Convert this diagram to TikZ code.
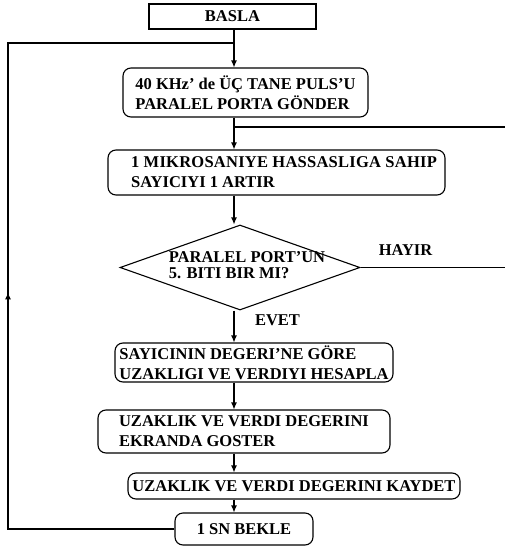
\documentclass[tikz,border=0pt]{standalone}
\usepackage{fontspec}
\setmainfont{Liberation Serif}
\usetikzlibrary{shapes.geometric,arrows.meta,decorations.markings}
\begin{document}
\begin{tikzpicture}[x=1pt,y=-1pt,
  every node/.style={font=\fontsize{16.5}{20}\selectfont\bfseries, inner sep=0pt},
  flowbox/.style={draw, line width=1.1pt, rounded corners=8pt, align=left},
  startbox/.style={draw, line width=1.1pt},
  decbox/.style={draw, line width=1.1pt, diamond, aspect=2.78},
  conn/.style={line width=1.1pt},
  arr/.style={conn, -{Latex[length=7pt,width=6pt]}},
  lbl/.style={font=\fontsize{16.5}{20}\selectfont\bfseries}
]
\useasboundingbox (0,0) rectangle (505,546);
\coordinate (ax) at (234,0);

\node[startbox, minimum width=167pt, minimum height=25pt] (b1) at (232.5,16.5) {BASLA};
\node[flowbox, minimum width=245pt, minimum height=49pt] (b2) at (245.5,92.5)
  {40 KHz' de ÜÇ TANE PULS'U\\PARALEL PORTA GÖNDER};
\node[flowbox, minimum width=337pt, minimum height=45pt] (b3) at (276.5,172.5)
  {\addfontfeature{LetterSpace=1.5}\hspace*{15pt}1 MIKROSANIYE HASSASLIGA SAHIP\\\hspace*{15pt}SAYICIYI 1 ARTIR};
\node[decbox, minimum width=240pt, minimum height=85pt] (dia) at (240,267.5)
  {\makebox[0pt]{\hspace*{14pt}\fontsize{16.5}{16}\selectfont\begin{tabular}{@{}l@{}}PARALEL PORT'UN\\5. BITI BIR MI?\end{tabular}}};
\node[flowbox, minimum width=278pt, minimum height=39pt] (b4) at (254,362.5)
  {SAYICININ DEGERI'NE GÖRE\\UZAKLIGI VE VERDIYI HESAPLA};
\node[flowbox, minimum width=292pt, minimum height=43pt] (b5) at (244,431.5)
  {UZAKLIK VE VERDI DEGERINI\\EKRANDA GOSTER};
\node[flowbox, minimum width=332pt, minimum height=26pt] (b6) at (294,486)
  {UZAKLIK VE VERDI DEGERINI KAYDET};
\node[flowbox, minimum width=138pt, minimum height=32pt] (b7) at (244,529)
  {1 SN BEKLE};

\node[lbl] (hy) at (405.5,250) {HAYIR};
\node[lbl] (ev) at (277.5,320) {EVET};

% main flow
\draw[arr] (b1.south -| ax) -- (b2.north -| ax);
\draw[arr] (b2.south -| ax) -- (b3.north -| ax);
\draw[arr] (b3.south -| ax) -- (dia.north -| ax);
\draw[arr] (dia.south -| ax) -- (b4.north -| ax);
\draw[arr] (b4.south -| ax) -- (b5.north -| ax);
\draw[arr] (b5.south -| ax) -- (b6.north -| ax);
\draw[arr] (b6.south -| ax) -- (b7.north -| ax);

% return loop on the left
\coordinate (lb) at (8,529);
\coordinate (lt) at (8,43);
\coordinate (j1) at (234,43);
\draw[conn, postaction={decorate}, decoration={markings,
   mark=at position 403pt with {\arrow{Latex[length=7pt,width=6pt]}}}]
  (b7.west) -- (lb) -- (lt) -- (j1);

% HAYIR loop on the right
\coordinate (rt) at (515,127);
\coordinate (j2) at (234,127);
\draw[conn] (dia.east) -| (rt) -- (j2);
\end{tikzpicture}
\end{document}
